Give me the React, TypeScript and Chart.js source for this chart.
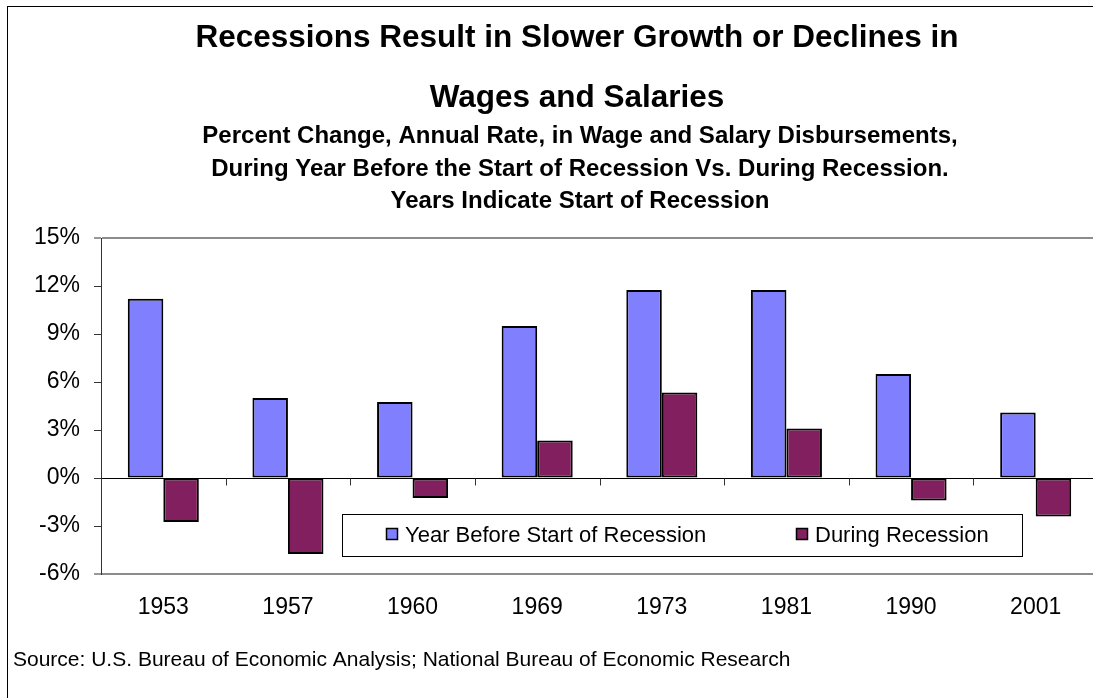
import React, { useEffect, useRef } from 'react';
import { Chart, registerables } from 'chart.js';

Chart.register(...registerables);

const categories = ['1953', '1957', '1960', '1969', '1973', '1981', '1990', '2001'];
const yearBeforeStart = [11.2, 5.0, 4.75, 9.5, 11.75, 11.75, 6.5, 4.1];
const duringRecession = [-2.75, -4.75, -1.25, 2.35, 5.35, 3.1, -1.4, -2.4];
const seriesLabels = ['Year Before Start of Recession', 'During Recession'];
const seriesColors = ['#8080ff', '#821f5e'];
const yMin = -6;
const yMax = 15;
const yStep = 3;
const titleLines = ['Recessions Result in Slower Growth or Declines in', 'Wages and Salaries'];
const subtitleLines = [
  'Percent Change, Annual Rate, in Wage and Salary Disbursements,',
  'During Year Before the Start of Recession Vs. During Recession.',
  'Years Indicate Start of Recession',
];
const sourceNote = 'Source: U.S. Bureau of Economic Analysis; National Bureau of Economic Research';

const FONT = "'Liberation Sans', Arial, Helvetica, sans-serif";

export default function App() {
  const ref = useRef<HTMLCanvasElement>(null);

  useEffect(() => {
    const canvas = ref.current;
    if (!canvas) return;

    const textPlugin = {
      id: 'texts',
      afterDraw(chart: any) {
        const ctx = chart.ctx;
        ctx.save();
        ctx.fillStyle = '#000';
        ctx.textAlign = 'center';
        ctx.textBaseline = 'alphabetic';
        ctx.font = `bold 31.5px ${FONT}`;
        titleLines.forEach((t, i) => ctx.fillText(t, 577, 47 + i * 60));
        ctx.font = `bold 24px ${FONT}`;
        subtitleLines.forEach((t, i) => ctx.fillText(t, 580, 143 + i * 32.5));
        ctx.textAlign = 'left';
        ctx.font = `21px ${FONT}`;
        ctx.fillText(sourceNote, 13, 666);
        ctx.restore();
      },
    };

    const axisTicksPlugin = {
      id: 'zeroTicks',
      afterDatasetsDraw(chart: any) {
        const ctx = chart.ctx;
        const xs = chart.scales.x;
        const ys = chart.scales.y;
        const y0 = Math.round(ys.getPixelForValue(0)) + 0.5;
        ctx.save();
        ctx.strokeStyle = '#333';
        ctx.lineWidth = 1;
        for (let i = 1; i < categories.length; i++) {
          const x = Math.round((xs.getPixelForValue(i - 1) + xs.getPixelForValue(i)) / 2) + 0.5;
          ctx.beginPath();
          ctx.moveTo(x, y0);
          ctx.lineTo(x, y0 + 7);
          ctx.stroke();
        }
        ctx.restore();
      },
    };

    const legendPlugin = {
      id: 'boxLegend',
      afterDraw(chart: any) {
        const ctx = chart.ctx;
        ctx.save();
        ctx.fillStyle = '#fff';
        ctx.fillRect(342, 514, 680, 42);
        ctx.strokeStyle = '#000';
        ctx.lineWidth = 1;
        ctx.strokeRect(342.5, 514.5, 680, 42);
        const starts = [386, 796];
        ctx.font = `22px ${FONT}`;
        ctx.textBaseline = 'alphabetic';
        ctx.textAlign = 'left';
        chart.data.datasets.forEach((ds: any, i: number) => {
          const x = starts[i];
          ctx.fillStyle = ds.backgroundColor;
          ctx.fillRect(x, 528, 12, 12);
          ctx.strokeStyle = '#000';
          ctx.lineWidth = 1.5;
          ctx.strokeRect(x + 0.5, 528.5, 11, 11);
          ctx.fillStyle = '#000';
          ctx.fillText(ds.label, x + 19, 542);
        });
        ctx.restore();
      },
    };

    const chart = new Chart(canvas, {
      type: 'bar',
      data: {
        labels: categories,
        datasets: [
          {
            label: seriesLabels[0],
            data: yearBeforeStart,
            backgroundColor: seriesColors[0],
            borderColor: '#000',
            borderWidth: 2,
            borderSkipped: false,
            categoryPercentage: 0.57,
            barPercentage: 1,
          },
          {
            label: seriesLabels[1],
            data: duringRecession,
            backgroundColor: seriesColors[1],
            borderColor: '#000',
            borderWidth: 2,
            borderSkipped: false,
            categoryPercentage: 0.57,
            barPercentage: 1,
          },
        ],
      },
      options: {
        responsive: false,
        animation: false,
        layout: { padding: { top: 238, right: 12, bottom: 0, left: 0 } },
        plugins: {
          legend: { display: false },
          title: { display: false },
          tooltip: { enabled: false },
        },
        scales: {
          x: {
            grid: { display: false, drawTicks: false },
            border: { display: false },
            ticks: {
              font: { family: FONT, size: 23 },
              color: '#000',
              padding: 20,
              maxRotation: 0,
              autoSkip: false,
            },
            afterFit(s: any) {
              s.height = 124;
            },
          },
          y: {
            min: yMin,
            max: yMax,
            ticks: {
              stepSize: yStep,
              callback: (v: any) => `${v}%`,
              font: { family: FONT, size: 23 },
              color: '#000',
              padding: 14,
            },
            grid: {
              color: (c: any) => {
                const v = c.tick ? c.tick.value : null;
                if (v === 0) return '#000';
                if (v === yMin || v === yMax) return '#8c8c8c';
                return 'rgba(0,0,0,0)';
              },
              lineWidth: (c: any) => {
                const v = c.tick ? c.tick.value : null;
                return v === yMin || v === yMax ? 2 : 1;
              },
              tickColor: '#333',
              tickLength: 7,
              tickWidth: 1,
            },
            border: { display: true, color: '#333', width: 1 },
            afterFit(s: any) {
              s.width = 101;
            },
          },
        },
      },
      plugins: [axisTicksPlugin, legendPlugin, textPlugin],
    } as any);

    return () => chart.destroy();
  }, []);

  return (
    <div
      style={{
        position: 'fixed',
        left: 0,
        top: 0,
        width: 1093,
        height: 698,
        overflow: 'hidden',
        background: '#fff',
      }}
    >
      <canvas
        ref={ref}
        width={1110}
        height={698}
        style={{ position: 'absolute', left: 0, top: 0 }}
      />
      <div
        style={{
          position: 'absolute',
          left: 7,
          top: 6,
          width: 1200,
          height: 800,
          borderLeft: '1px solid #000',
          borderTop: '1px solid #000',
          pointerEvents: 'none',
        }}
      />
    </div>
  );
}
